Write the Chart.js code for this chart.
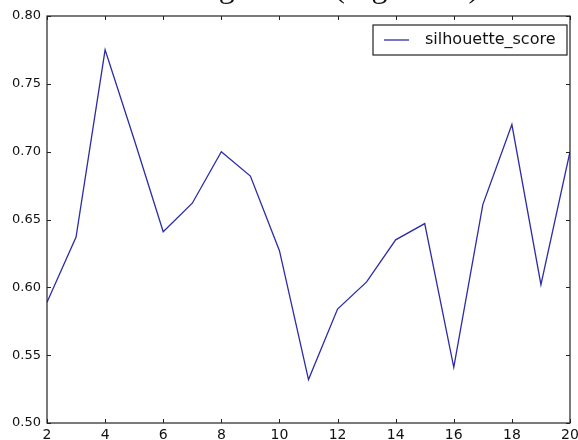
<!DOCTYPE html>
<html>
<head>
<meta charset="utf-8">
<script src="https://cdn.jsdelivr.net/npm/chart.js@4"></script>
<style>
  html, body { margin: 0; padding: 0; background: #fff; }
  #wrap { position: relative; width: 578px; height: 440px; overflow: hidden; }
  #doc { position: absolute; left: -55px; top: -30px; white-space: nowrap;
         font-family: "Liberation Serif", serif; font-size: 32px; color: #111; line-height: 32px; }
  canvas { position: absolute; left: 0; top: 0; }
</style>
</head>
<body>
<div id="wrap">
  <canvas id="c" width="578" height="440"></canvas>
  <div id="doc">obtained the following results (Figure 10).</div>
</div>
<script>
const kValues = [2, 3, 4, 5, 6, 7, 8, 9, 10, 11, 12, 13, 14, 15, 16, 17, 18, 19, 20];
const silhouetteScores = [0.589, 0.637, 0.775, 0.709, 0.641, 0.662, 0.700, 0.682, 0.627, 0.532,
                          0.584, 0.604, 0.635, 0.647, 0.541, 0.661, 0.720, 0.602, 0.700];
const seriesName = 'silhouette_score';
const yTicks = [0.50, 0.55, 0.60, 0.65, 0.70, 0.75, 0.80];
const xTicks = [2, 4, 6, 8, 10, 12, 14, 16, 18, 20];

const FONT = 'DejaVu Sans';
const AXIS_COLOR = '#222';
const LINE_COLOR = '#2c2ca8';

const frameAndLegend = {
  id: 'frameAndLegend',
  afterDraw(chart) {
    const { ctx, chartArea: a, scales } = chart;
    ctx.save();
    ctx.strokeStyle = AXIS_COLOR;
    ctx.lineWidth = 1.2;
    ctx.strokeRect(a.left, a.top, a.right - a.left, a.bottom - a.top);
    const tl = 4;
    ctx.lineWidth = 1;
    ctx.beginPath();
    xTicks.forEach(v => {
      const px = Math.round(scales.x.getPixelForValue(v)) + 0.5;
      ctx.moveTo(px, a.bottom); ctx.lineTo(px, a.bottom - tl);
      ctx.moveTo(px, a.top); ctx.lineTo(px, a.top + tl);
    });
    yTicks.forEach(v => {
      const py = Math.round(scales.y.getPixelForValue(v)) + 0.5;
      ctx.moveTo(a.left, py); ctx.lineTo(a.left + tl, py);
      ctx.moveTo(a.right, py); ctx.lineTo(a.right - tl, py);
    });
    ctx.stroke();
    const ds = chart.data.datasets[0];
    const bx = a.right - 197, by = a.top + 9, bw = 194, bh = 30;
    ctx.fillStyle = '#fff';
    ctx.fillRect(bx, by, bw, bh);
    ctx.strokeStyle = AXIS_COLOR;
    ctx.lineWidth = 1.2;
    ctx.strokeRect(bx, by, bw, bh);
    ctx.strokeStyle = ds.borderColor;
    ctx.lineWidth = 1.3;
    ctx.beginPath();
    ctx.moveTo(bx + 11, by + bh / 2);
    ctx.lineTo(bx + 36, by + bh / 2);
    ctx.stroke();
    ctx.fillStyle = '#111';
    ctx.font = '16px "' + FONT + '"';
    ctx.textBaseline = 'middle';
    ctx.textAlign = 'left';
    ctx.fillText(ds.label, bx + 52, by + bh / 2);
    ctx.restore();
  }
};

new Chart(document.getElementById('c'), {
  type: 'line',
  data: {
    datasets: [{
      label: seriesName,
      data: kValues.map((k, i) => ({ x: k, y: silhouetteScores[i] })),
      borderColor: LINE_COLOR,
      borderWidth: 1.3,
      pointRadius: 0,
      tension: 0,
      fill: false
    }]
  },
  options: {
    responsive: false,
    animation: false,
    devicePixelRatio: 1,
    layout: { padding: { left: 0, top: 16, right: 8, bottom: 0 } },
    plugins: { legend: { display: false }, tooltip: { enabled: false } },
    scales: {
      x: {
        type: 'linear', min: 2, max: 20,
        afterBuildTicks: s => { s.ticks = xTicks.map(v => ({ value: v })); },
        afterFit: s => { s.height = 17; s.paddingLeft = 0; s.paddingRight = 0; },
        grid: { display: false, drawTicks: false },
        border: { display: false },
        ticks: { padding: 4, color: '#111', font: { family: FONT, size: 14 },
                 maxRotation: 0, autoSkip: false, callback: v => String(v) }
      },
      y: {
        type: 'linear', min: 0.5, max: 0.8,
        afterBuildTicks: s => { s.ticks = yTicks.map(v => ({ value: v })); },
        afterFit: s => { s.width = 47; s.paddingTop = 0; s.paddingBottom = 0; },
        grid: { display: false, drawTicks: false },
        border: { display: false },
        ticks: { padding: 6, color: '#111', font: { family: FONT, size: 13 },
                 callback: v => Number(v).toFixed(2) }
      }
    }
  },
  plugins: [frameAndLegend]
});
</script>
</body>
</html>
